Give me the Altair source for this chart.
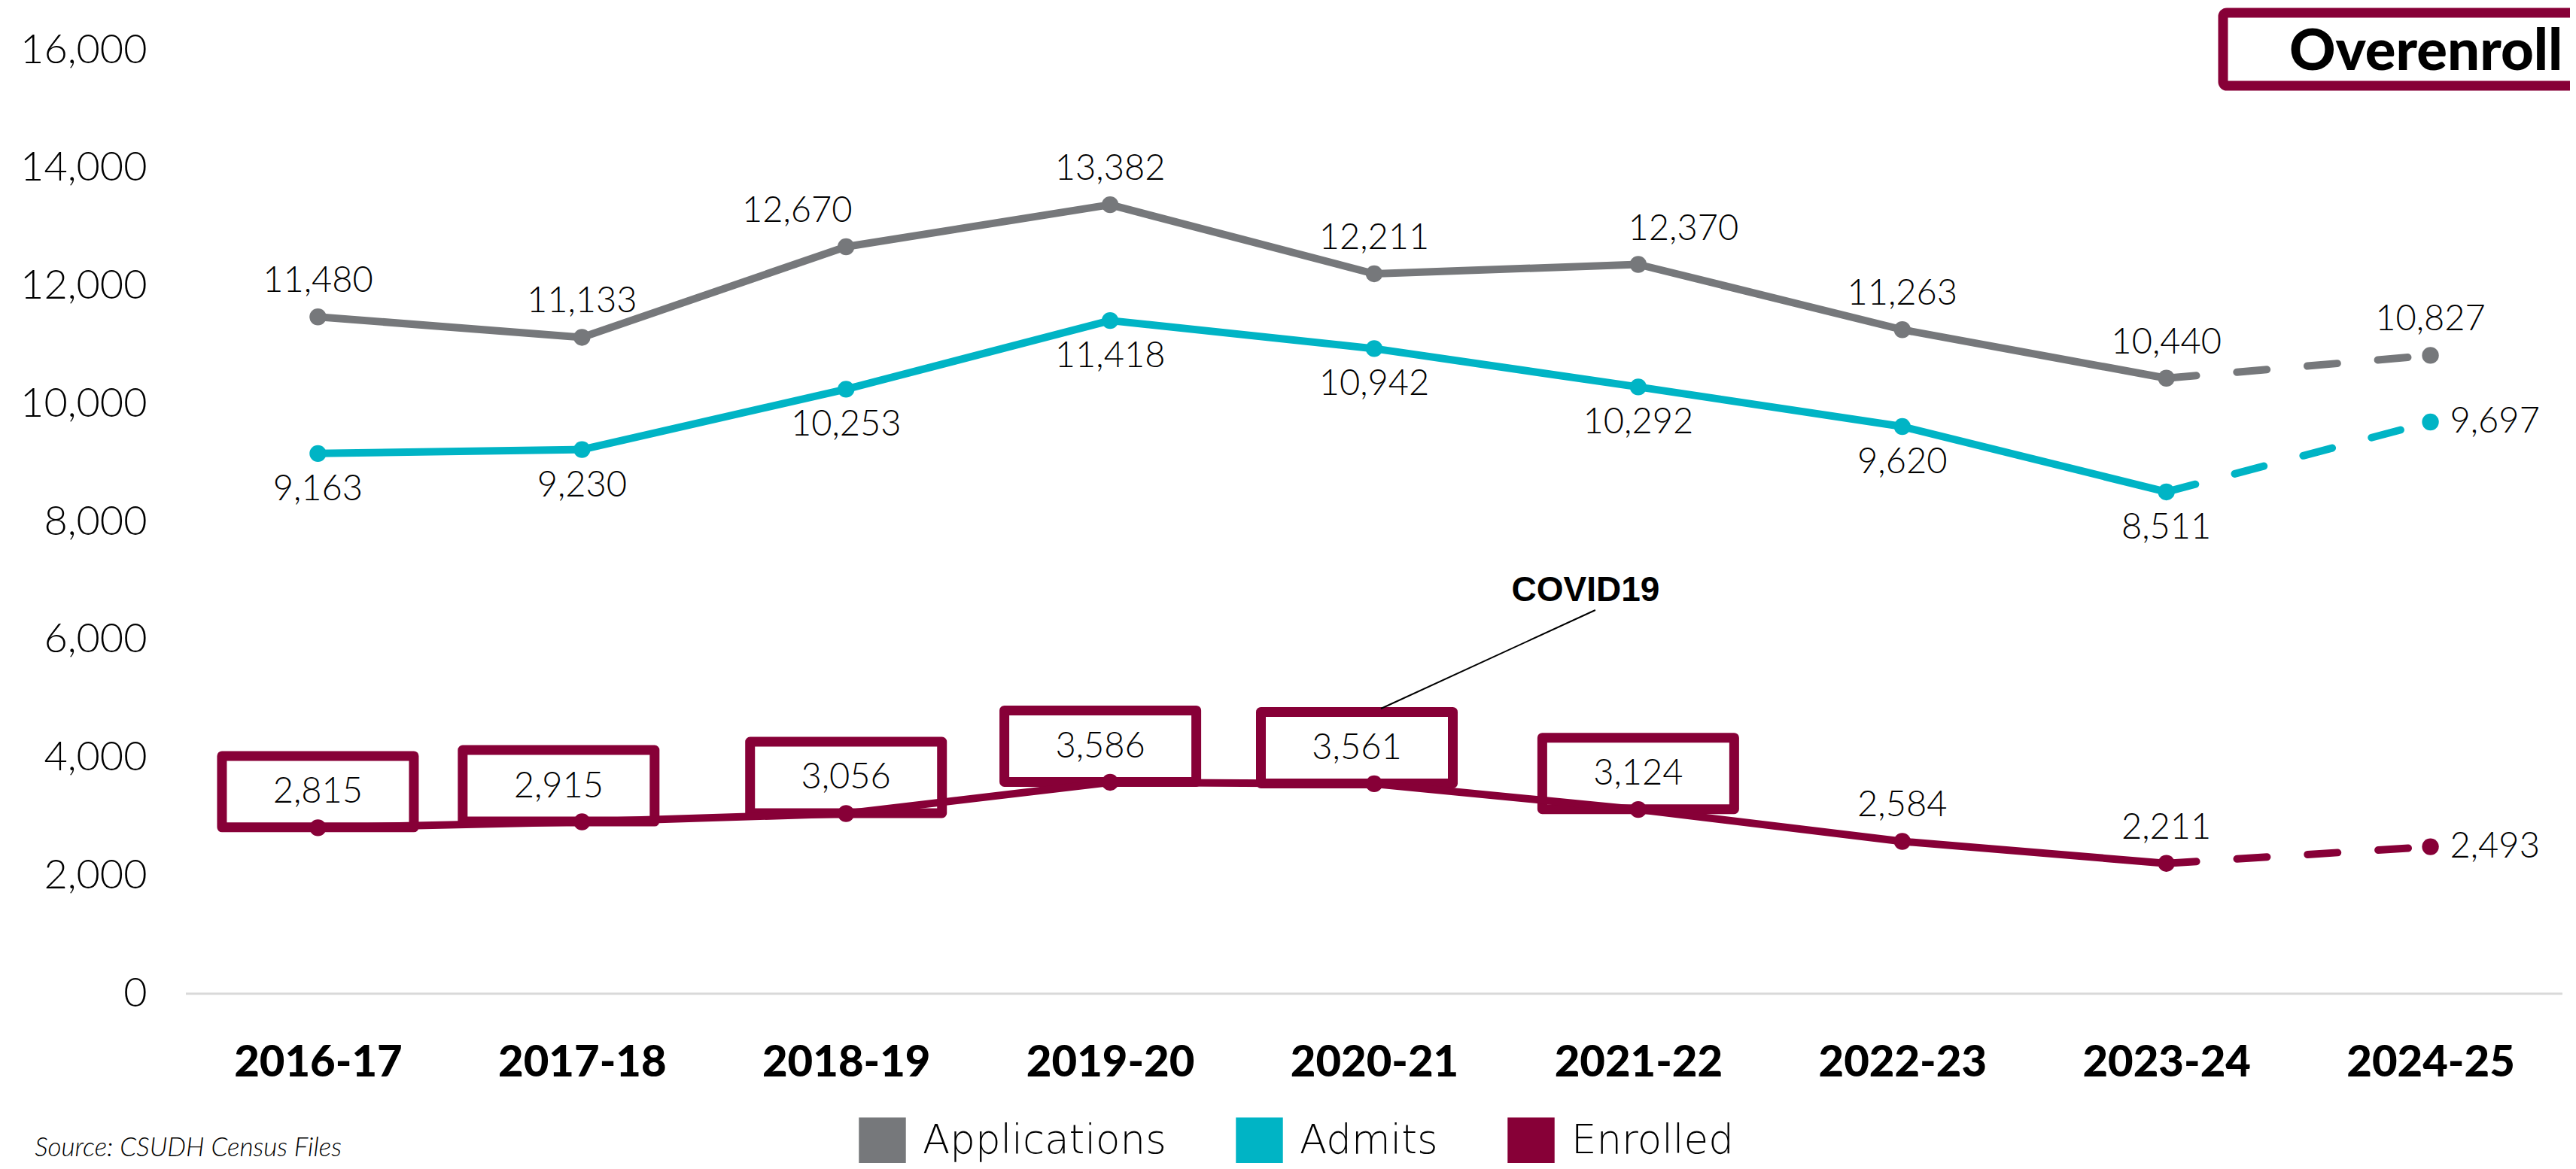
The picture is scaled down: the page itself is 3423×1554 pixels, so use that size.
import altair as alt
import pandas as pd

# ---------------- data ----------------
years = ["2016-17", "2017-18", "2018-19", "2019-20", "2020-21",
         "2021-22", "2022-23", "2023-24", "2024-25"]
applications = [11480, 11133, 12670, 13382, 12211, 12370, 11263, 10440, 10827]
admits = [9163, 9230, 10253, 11418, 10942, 10292, 9620, 8511, 9697]
enrolled = [2815, 2915, 3056, 3586, 3561, 3124, 2584, 2211, 2493]
series_names = ["Applications", "Admits", "Enrolled"]
boxed_years = ["2016-17", "2017-18", "2018-19", "2019-20", "2020-21", "2021-22"]
projected_years = ["2023-24", "2024-25"]
y_ticks = [0, 2000, 4000, 6000, 8000, 10000, 12000, 14000, 16000]
source_text = "Source: CSUDH Census Files"
badge_text = "Overenroll"
covid_text = "COVID19"
covid_year = "2021-22"
covid_value = 6840
covid_line_from = ("2020-21", 4836)
covid_line_to = ("2021-22", 6507)

# ---------------- style ----------------
colors = ["#76787B", "#00B4C5", "#870037"]
MAROON = "#870037"
NUM_FONT = "Lato"
BOLD_FONT = "Lato"
LEGEND_FONT = "DejaVu Sans"

label_pos = {"Applications": "above", "Admits": "below", "Enrolled": "above"}
right_labels = {("Admits", "2024-25"), ("Enrolled", "2024-25")}
label_dx = {("Applications", "2018-19"): -65, ("Applications", "2021-22"): 60,
            ("Enrolled", "2017-18"): -31, ("Enrolled", "2019-20"): -13,
            ("Enrolled", "2020-21"): -23}

rows = []
for name, vals in zip(series_names, [applications, admits, enrolled]):
    for y, v in zip(years, vals):
        pos = "right" if (name, y) in right_labels else label_pos[name]
        rows.append({
            "year": y, "series": name, "value": v,
            "label": f"{v:,}", "pos": pos,
            "dx": label_dx.get((name, y), 0),
            "boxed": name == "Enrolled" and y in boxed_years,
        })
df = pd.DataFrame(rows)

W, H = 3158, 1254
x_enc = alt.X("year:N", sort=years, scale=alt.Scale(type="point", padding=0.5, domain=years),
              axis=alt.Axis(title=None, labelFont=BOLD_FONT, labelFontWeight=900,
                            labelFontSize=58, labelColor="#000000", labelPadding=63,
                            labelLimit=1000, ticks=False, tickSize=0, domain=False,
                            labelAngle=0, grid=False))
y_enc = alt.Y("value:Q", scale=alt.Scale(domain=[0, 16000], nice=False),
              axis=alt.Axis(title=None, values=y_ticks,
                            labelExpr="format(datum.value, ',')",
                            labelFont=NUM_FONT, labelFontWeight=300, labelFontSize=54,
                            labelColor="#000000", labelPadding=52, ticks=False,
                            tickSize=0, domain=False, grid=False))
color_scale = alt.Scale(domain=series_names, range=colors)

base = alt.Chart(df)

zero_rule = alt.Chart(pd.DataFrame({"value": [0]})).mark_rule(
    color="#D9D9D9", strokeWidth=3).encode(y=y_enc, x=alt.value(0), x2=alt.value(W))

boxes = base.transform_filter("datum.boxed").mark_point(
    shape="M-1,-0.3725H1V0.3725H-1Z", size=255 * 255, filled=False,
    stroke=MAROON, strokeWidth=13, strokeJoin="round", opacity=1, yOffset=-48
).encode(x=x_enc, y=y_enc, xOffset=alt.XOffset("dx:Q", scale=None))

line_layers = []
for name, col in zip(series_names, colors):
    s = base.transform_filter(alt.datum.series == name)
    line_layers.append(
        s.transform_filter(alt.datum.year != years[-1]).mark_line(
            color=col, strokeWidth=10, strokeCap="round", strokeJoin="round"
        ).encode(x=x_enc, y=y_enc))
    line_layers.append(
        s.transform_filter(alt.FieldOneOfPredicate(field="year", oneOf=projected_years)).mark_line(
            color=col, strokeWidth=10, strokeCap="round", strokeDash=[40, 54]
        ).encode(x=x_enc, y=y_enc))

points = base.mark_circle(size=500, opacity=1).encode(
    x=x_enc, y=y_enc,
    fill=alt.Fill("series:N", scale=color_scale, title=None,
                  legend=alt.Legend(orient="none", legendX=894, legendY=1418,
                                    direction="horizontal", symbolType="square",
                                    symbolSize=3900, symbolStrokeWidth=0,
                                    symbolOpacity=1,
                                    labelFont=LEGEND_FONT, labelFontWeight=200,
                                    labelFontSize=53, labelColor="#000000",
                                    labelOffset=22, columnPadding=92,
                                    labelLimit=600)))

def text_layer(pos, **kw):
    return base.transform_filter(alt.datum.pos == pos).mark_text(
        font=NUM_FONT, fontWeight=300, fontSize=47, color="#000000", **kw
    ).encode(x=x_enc, y=y_enc, text="label:N",
             xOffset=alt.XOffset("dx:Q", scale=None))

labels_above = text_layer("above", baseline="middle", dy=-47)
labels_below = text_layer("below", baseline="middle", dy=48)
labels_right = text_layer("right", baseline="middle", align="left", dx=26)

covid_label = alt.Chart(pd.DataFrame({"year": [covid_year], "value": [covid_value],
                                      "t": [covid_text]})).mark_text(
    font="Liberation Sans", fontWeight="bold", fontSize=46, color="#000000",
    baseline="middle", dx=-70
).encode(x=x_enc, y=y_enc, text="t:N")

covid_line = alt.Chart(pd.DataFrame({
    "year": [covid_line_from[0]], "year2": [covid_line_to[0]],
    "value": [covid_line_from[1]], "value2": [covid_line_to[1]]})).mark_rule(
    color="#000000", strokeWidth=2, xOffset=9, x2Offset=-57
).encode(x=x_enc, x2="year2:N", y=y_enc, y2="value2:Q")

badge_box = alt.Chart(pd.DataFrame({"t": [badge_text]})).mark_rect(
    fill="#FFFFFF", stroke=MAROON, strokeWidth=13, cornerRadius=5
).encode(x=alt.value(2707), x2=alt.value(3300), y=alt.value(-50), y2=alt.value(47))

badge_text_mark = alt.Chart(pd.DataFrame({"t": [badge_text]})).mark_text(
    font=BOLD_FONT, fontWeight=900, fontSize=76, color="#000000",
    align="left", baseline="alphabetic"
).encode(x=alt.value(2795), y=alt.value(26), text="t:N")

source = alt.Chart(pd.DataFrame({"t": [source_text]})).mark_text(
    font=NUM_FONT, fontStyle="italic", fontWeight=300, fontSize=35, color="#000000",
    align="right", baseline="middle"
).encode(x=alt.value(207), y=alt.value(1459), text="t:N")

chart = alt.layer(
    zero_rule, boxes, *line_layers, points,
    labels_above, labels_below, labels_right,
    covid_line, covid_label, badge_box, badge_text_mark, source
).properties(
    width=W, height=H,
    background="#FFFFFF",
    autosize=alt.AutoSizeParams(type="none"),
    padding={"left": 239, "top": 59, "right": 10, "bottom": 225},
).configure_view(stroke="transparent", strokeWidth=0).configure_axis(
    grid=False, domain=False, ticks=False
)

chart.save("out.html", embed_options={"renderer": "svg", "actions": False})
